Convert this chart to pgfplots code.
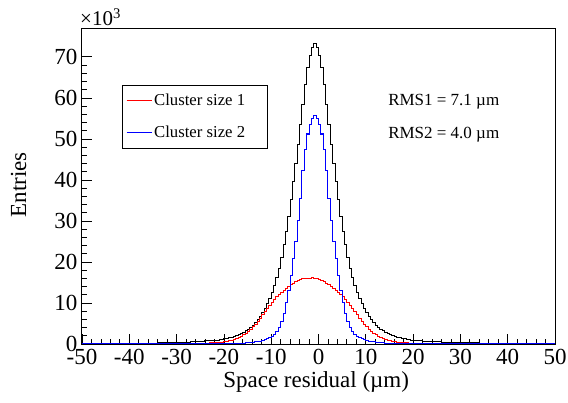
\documentclass[border=0pt]{standalone}
\usepackage{fontspec}
\setmainfont{Liberation Serif}
\usepackage{pgfplots}
\usepackage{pgfplotstable}
\pgfplotsset{compat=1.18}
% columns: left bin edge (um), all (k), cluster size 2 (k), cluster size 1 (k)
\pgfplotstableread{
e k b r
-50 0.08 0.01 0.01
-49 0.08 0.01 0.01
-48 0.09 0.01 0.01
-47 0.10 0.01 0.01
-46 0.10 0.01 0.01
-45 0.11 0.01 0.01
-44 0.12 0.01 0.02
-43 0.13 0.01 0.02
-42 0.14 0.01 0.02
-41 0.15 0.01 0.02
-40 0.16 0.01 0.02
-39 0.18 0.02 0.02
-38 0.19 0.02 0.02
-37 0.21 0.02 0.03
-36 0.22 0.02 0.03
-35 0.24 0.02 0.03
-34 0.26 0.02 0.035
-33 0.29 0.03 0.04
-32 0.32 0.03 0.045
-31 0.35 0.03 0.05
-30 0.39 0.03 0.06
-29 0.43 0.035 0.07
-28 0.48 0.035 0.08
-27 0.53 0.04 0.10
-26 0.60 0.04 0.12
-25 0.67 0.045 0.16
-24 0.74 0.045 0.19
-23 0.82 0.05 0.25
-22 0.92 0.05 0.32
-21 1.05 0.055 0.44
-20 1.22 0.07 0.56
-19.5 1.35 0.08 0.66
-19 1.50 0.09 0.78
-18.5 1.65 0.10 0.92
-18 1.85 0.12 1.10
-17.5 2.05 0.14 1.30
-17 2.30 0.16 1.55
-16.5 2.55 0.19 1.85
-16 2.85 0.22 2.20
-15.5 3.20 0.26 2.60
-15 3.60 0.30 3.05
-14.5 4.05 0.36 3.60
-14 4.60 0.42 4.20
-13.5 5.20 0.50 4.80
-13 5.90 0.58 5.50
-12.5 6.70 0.70 6.30
-12 7.60 0.85 7.10
-11.5 8.60 1.05 7.90
-11 9.80 1.30 8.70
-10.5 11.10 1.60 9.50
-10 12.50 1.90 10.20
-9.5 14.20 2.30 10.90
-9 16.20 3.00 11.50
-8.5 18.50 4.00 12.00
-8 21.20 5.40 12.50
-7.5 24.20 7.50 13.00
-7 27.50 10.00 13.50
-6.5 31.20 13.00 14.00
-6 35.20 16.80 14.45
-5.5 39.50 20.80 14.85
-5 44.00 25.00 15.20
-4.5 48.70 30.00 15.50
-4 53.50 35.50 15.70
-3.5 58.50 42.30 15.85
-3 63.20 47.50 15.95
-2.5 67.30 51.20 16.05
-2 70.30 53.50 15.95
-1.5 72.30 55.00 16.10
-1 73.30 55.60 15.90
-0.5 72.30 55.00 15.95
0 70.30 53.50 15.70
0.5 67.30 51.20 15.55
1 63.20 47.50 15.20
1.5 58.50 42.30 14.85
2 53.50 35.50 14.45
2.5 48.70 30.00 14.00
3 44.00 25.00 13.50
3.5 39.50 20.80 13.00
4 35.20 16.80 12.50
4.5 31.20 13.00 12.00
5 27.50 10.00 11.50
5.5 24.20 7.50 10.90
6 21.20 5.40 10.20
6.5 18.50 4.00 9.50
7 16.20 3.00 8.70
7.5 14.20 2.30 7.90
8 12.50 1.90 7.10
8.5 11.10 1.60 6.30
9 9.80 1.30 5.50
9.5 8.60 1.05 4.80
10 7.60 0.85 4.20
10.5 6.70 0.70 3.60
11 5.90 0.58 3.05
11.5 5.20 0.50 2.60
12 4.60 0.42 2.20
12.5 4.05 0.36 1.85
13 3.60 0.30 1.55
13.5 3.20 0.26 1.30
14 2.85 0.22 1.10
14.5 2.55 0.19 0.92
15 2.30 0.16 0.78
15.5 2.05 0.14 0.66
16 1.85 0.12 0.56
16.5 1.65 0.10 0.48
17 1.50 0.09 0.41
17.5 1.35 0.08 0.35
18 1.22 0.07 0.30
18.5 1.10 0.06 0.27
19 1.00 0.05 0.23
19.5 0.95 0.045 0.20
20 0.88 0.04 0.17
21 0.78 0.04 0.14
22 0.70 0.035 0.11
23 0.63 0.035 0.09
24 0.57 0.03 0.08
25 0.51 0.03 0.07
26 0.46 0.03 0.06
27 0.41 0.025 0.05
28 0.37 0.025 0.045
29 0.34 0.02 0.04
30 0.31 0.02 0.035
31 0.29 0.02 0.03
32 0.27 0.02 0.03
33 0.25 0.02 0.025
34 0.23 0.015 0.025
35 0.21 0.015 0.02
36 0.20 0.015 0.02
37 0.18 0.015 0.02
38 0.17 0.01 0.02
39 0.16 0.01 0.015
40 0.15 0.01 0.015
41 0.14 0.01 0.015
42 0.13 0.01 0.01
43 0.12 0.01 0.01
44 0.11 0.01 0.01
45 0.10 0.01 0.01
46 0.10 0.01 0.01
47 0.09 0.01 0.01
48 0.08 0.01 0.01
49 0.08 0.01 0.01
50 0.08 0.01 0.01
}\datatable
\begin{document}
\begin{tikzpicture}
\begin{axis}[
  scale only axis,
  width=473pt, height=315pt,
  xmin=-50, xmax=50, ymin=0, ymax=76.8,
  axis line style={line width=1pt},
  xtick={-50,-40,...,50},
  ytick={0,10,...,70},
  minor x tick num=4,
  minor y tick num=4,
  tick align=inside,
  xtick pos=bottom, ytick pos=left,
  major tick length=10pt, minor tick length=5pt,
  tick style={black, line width=0.8pt},
  /pgf/number format/assume math mode=true,
  ticklabel style={font=\fontsize{23}{23}\selectfont},
  xticklabel style={yshift=-2pt},
  yticklabel style={xshift=-1pt},
  xlabel={Space residual (µm)},
  ylabel={Entries},
  xlabel style={font=\fontsize{23}{23}\selectfont, at={(rel axis cs:0.495,0)}, anchor=center, yshift=-38pt},
  ylabel style={font=\fontsize{23}{23}\selectfont, at={(rel axis cs:0,0.505)}, anchor=center, yshift=63.5pt},
  legend style={fill=white, at={(rel axis cs:0.0846,0.822)}, anchor=north west,
    font=\fontsize{16.7}{18}\selectfont, inner xsep=4pt, inner ysep=7pt, row sep=15pt, cells={anchor=west}},
  clip mode=individual,
]
\addplot[const plot mark left, draw=black, line width=1pt, forget plot] table[x=e, y=k] {\datatable};
\addplot[const plot mark left, draw=red, line width=1pt, forget plot] table[x=e, y=r] {\datatable};
\addplot[const plot mark left, draw=blue, line width=1pt, forget plot] table[x=e, y=b] {\datatable};
\addlegendimage{legend image code/.code={\draw[draw=red, line width=1pt] (0pt,0pt) -- (25pt,0pt);}}
\addlegendentry{Cluster size 1\rule{16pt}{0pt}}
\addlegendimage{legend image code/.code={\draw[draw=blue, line width=1pt] (0pt,0pt) -- (25pt,0pt);}}
\addlegendentry{Cluster size 2\rule{16pt}{0pt}}
\node[anchor=west, font=\fontsize{17}{17}\selectfont] at (axis cs:14.0,59.0) {RMS1 = 7.1 µm};
\node[anchor=west, font=\fontsize{17}{17}\selectfont] at (axis cs:14.0,51.0) {RMS2 = 4.0 µm};
\node[anchor=south west, font=\fontsize{21}{21}\selectfont, inner sep=0pt] at (rel axis cs:0,1) [xshift=-2pt, yshift=3pt] {×10\textsuperscript{3}};
\end{axis}
\pgfresetboundingbox
\useasboundingbox (-82pt,-58pt) rectangle (486pt,344pt);
\end{tikzpicture}
\end{document}
